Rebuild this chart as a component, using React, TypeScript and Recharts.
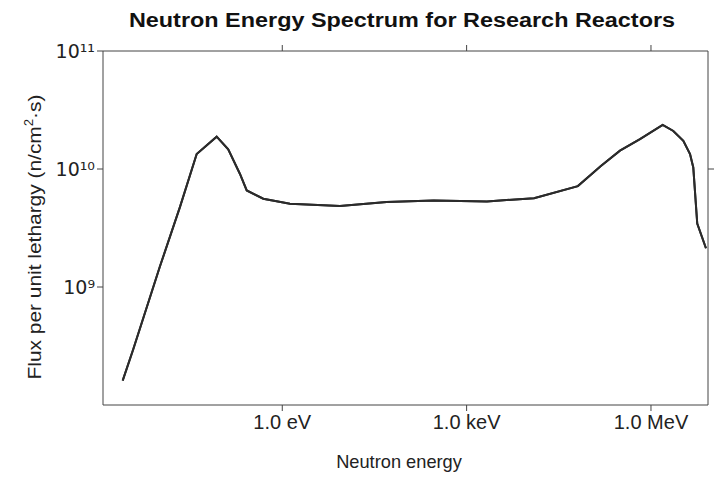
import React from 'react';
import { LineChart, Line, XAxis, YAxis } from 'recharts';

// Neutron energy (eV) and flux per unit lethargy (n/cm²·s)
const energyEv = [
  2.53e-3, 3.76e-3, 1.02e-2, 0.0216, 0.0405, 0.0856, 0.132, 0.205, 0.264, 0.491,
  1.33, 8.69, 50, 290, 2140, 1.25e4, 6.46e4, 1.53e5, 3.13e5, 6.62e5, 1.55e6,
  2.31e6, 3.36e6, 4.32e6, 4.88e6, 5.66e6, 7.85e6,
];
const fluxPerLethargy = [
  1.61e8, 2.97e8, 1.49e9, 4.75e9, 1.34e10, 1.88e10, 1.47e10, 9.08e9, 6.58e9, 5.6e9,
  5.08e9, 4.85e9, 5.24e9, 5.42e9, 5.31e9, 5.66e9, 7.16e9, 1.06e10, 1.43e10, 1.79e10,
  2.36e10, 2.1e10, 1.73e10, 1.34e10, 1.03e10, 3.45e9, 2.13e9,
];

const energyTicks = [1, 1e3, 1e6];
const energyTickLabels = ['1.0 eV', '1.0 keV', '1.0 MeV'];
const fluxTicks = [1e9, 1e10, 1e11];
const fluxTickLabels = ['10⁹', '10¹⁰', '10¹¹'];
const rightFluxTicks = [1e10];

const data = energyEv.map((e, i) => ({ energy: e, flux: fluxPerLethargy[i] }));

const FONT = '"Liberation Sans", Arial, Helvetica, sans-serif';
const AXIS_COLOR = '#444';
const LINE_COLOR = '#2b2b2b';
const W = 717;
const H = 477;
const ENERGY_DOMAIN: [number, number] = [1.21e-3, 8.47e6];
const FLUX_DOMAIN: [number, number] = [1e8, 1e11];

const energyTickText = { fill: '#222', fontSize: 20, fontFamily: FONT };
// DejaVu carries every superscript digit, so the exponents render evenly
const fluxTickText = { fill: '#222', fontSize: 19, fontFamily: '"DejaVu Sans", sans-serif' };
const energyLabel = (v: number) => energyTickLabels[energyTicks.indexOf(v)] ?? '';
const fluxLabel = (v: number) => fluxTickLabels[fluxTicks.indexOf(v)] ?? '';
const blankLabel = () => '';

export default function App() {
  return (
    <div style={{ position: 'absolute', left: 0, top: 0, width: W, height: H, background: '#fff', fontFamily: FONT, color: '#111' }}>
      <LineChart
        width={W}
        height={H}
        data={data}
        margin={{ top: 31, right: 0, bottom: 42, left: 43 }}
      >
        <XAxis
          dataKey="energy"
          type="number"
          scale="log"
          domain={ENERGY_DOMAIN}
          allowDataOverflow
          ticks={energyTicks}
          height={30}
          tickMargin={4}
          tickFormatter={energyLabel}
          tick={energyTickText}
          stroke={AXIS_COLOR}
        />
        <XAxis
          xAxisId="top"
          orientation="top"
          dataKey="energy"
          type="number"
          scale="log"
          domain={ENERGY_DOMAIN}
          allowDataOverflow
          ticks={energyTicks}
          height={20}
          tickFormatter={blankLabel}
          stroke={AXIS_COLOR}
        />
        <YAxis
          dataKey="flux"
          type="number"
          scale="log"
          domain={FLUX_DOMAIN}
          allowDataOverflow
          ticks={fluxTicks}
          width={60}
          tickFormatter={fluxLabel}
          tick={fluxTickText}
          stroke={AXIS_COLOR}
        />
        <YAxis
          yAxisId="right"
          orientation="right"
          dataKey="flux"
          type="number"
          scale="log"
          domain={FLUX_DOMAIN}
          allowDataOverflow
          ticks={rightFluxTicks}
          width={9}
          tickFormatter={blankLabel}
          stroke={AXIS_COLOR}
        />
        {/* the spectrum, drawn against both axis pairs so the full frame is kept */}
        <Line
          xAxisId="top"
          yAxisId="right"
          type="linear"
          dataKey="flux"
          stroke={LINE_COLOR}
          strokeWidth={2}
          dot={false}
          isAnimationActive={false}
        />
        <Line
          type="linear"
          dataKey="flux"
          stroke={LINE_COLOR}
          strokeWidth={2}
          dot={false}
          isAnimationActive={false}
        />
      </LineChart>

      <div
        style={{
          position: 'absolute',
          left: 402,
          top: 10,
          fontSize: 20,
          lineHeight: '20px',
          fontWeight: 'bold',
          whiteSpace: 'nowrap',
          transform: 'translateX(-50%) scaleX(1.17)',
        }}
      >
        Neutron Energy Spectrum for Research Reactors
      </div>

      <div
        style={{
          position: 'absolute',
          left: 399,
          top: 452,
          fontSize: 19,
          lineHeight: '19px',
          color: '#222',
          whiteSpace: 'nowrap',
          transform: 'translateX(-50%) scaleX(0.96)',
        }}
      >
        Neutron energy
      </div>

      <div
        style={{
          position: 'absolute',
          left: 34,
          top: 237,
          fontSize: 19,
          lineHeight: '19px',
          color: '#222',
          whiteSpace: 'nowrap',
          transform: 'translate(-50%, -50%) rotate(-90deg) scaleX(1.1)',
        }}
      >
        Flux per unit lethargy (n/cm
        <sup style={{ fontSize: 12, lineHeight: 0 }}>2</sup>·s)
      </div>
    </div>
  );
}
